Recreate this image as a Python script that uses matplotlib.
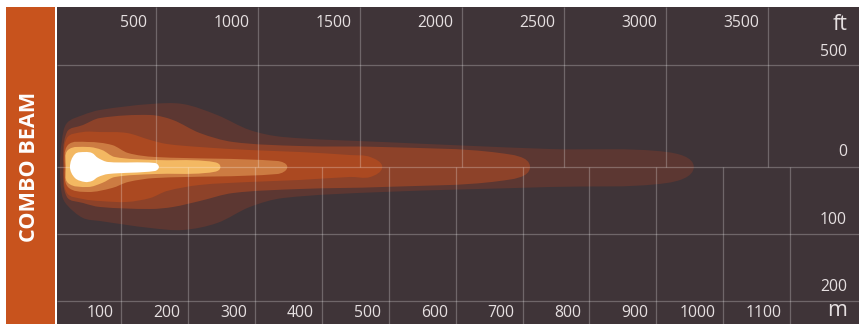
import matplotlib
matplotlib.use("Agg")
import matplotlib.pyplot as plt
from matplotlib.path import Path
from matplotlib.patches import PathPatch, Rectangle
import numpy as np

# ---------------- data (metres) ----------------
ft_ticks = [500, 1000, 1500, 2000, 2500, 3000, 3500]
m_ticks = [100, 200, 300, 400, 500, 600, 700, 800, 900, 1000, 1100]
lateral_lines_m = [152.4, 0, -100, -200]
right_labels = ["ft", "500", "0", "100", "200", "m"]
title = "COMBO BEAM"

# each layer: x positions, upper edge, lower edge, start (left tip) and end (right tip)
l1_x = [11, 18.5, 42.5, 68, 143, 192, 243, 292, 342, 491, 741, 916]
l1_top = [40.4, 65.8, 77.8, 85.3, 94.2, 94.2, 77.8, 55.3, 44.9, 37.4, 26.9, 22.4]
l1_bot = [-41.9, -56.8, -76.3, -80.8, -91.2, -94.2, -83.8, -59.8, -46.4, -37.4, -29.9, -23.9]
l1_ends = (8, 956)

l2_x = [18.5, 42.5, 68, 143, 177, 217, 267, 367, 491, 666]
l2_top = [52.3, 62.8, 73.3, 77.8, 70.3, 50.9, 37.4, 31.4, 29.9, 20.9]
l2_bot = [-44.9, -53.8, -59.8, -62.8, -59.8, -50.9, -38.9, -32.9, -29.9, -20.9]
l2_ends = (13, 711)

l3_x = [18.5, 42.5, 68, 108, 143, 168, 217, 292, 367, 442, 472]
l3_top = [43.4, 52.3, 52.3, 50.9, 40.4, 34.4, 29.9, 25.4, 22.4, 17.9, 15.0]
l3_bot = [-38.9, -47.9, -50.9, -52.3, -46.4, -35.9, -26.9, -22.4, -19.4, -14.9, -15.0]
l3_ends = (14, 490)

l4_x = [20, 50, 86, 110, 150, 333]
l4_top = [32.9, 37.4, 32.9, 20.9, 15.0, 9.0]
l4_bot = [-29.9, -37.4, -31.4, -22.4, -16.5, -10.5]
l4_ends = (15.5, 348)

l5_x = [20, 50, 71, 90, 150, 225]
l5_top = [25.4, 29.9, 25.4, 15.0, 10.5, 9.0]
l5_bot = [-23.9, -29.9, -23.9, -15.0, -10.5, -9.0]
l5_ends = (17, 248)

l6_x = [30.5, 45.5, 56, 65, 80, 150]
l6_top = [19.4, 22.4, 20.9, 13.5, 7.5, 6.0]
l6_bot = [-16.5, -22.4, -20.9, -15.0, -10.5, -6.0]
l6_ends = (23, 156)

layers = [
    (l1_x, l1_top, l1_bot, l1_ends, "#5c3732"),
    (l2_x, l2_top, l2_bot, l2_ends, "#8d4229"),
    (l3_x, l3_top, l3_bot, l3_ends, "#ab4921"),
    (l4_x, l4_top, l4_bot, l4_ends, "#cc7b42"),
    (l5_x, l5_top, l5_bot, l5_ends, "#f3b862"),
    (l6_x, l6_top, l6_bot, l6_ends, "#ffffff"),
]

# ---------------- styling ----------------
BG = "#3f3438"
BAR = "#c8531d"
TXT = "#e6e0e1"
FONT = "Open Sans"
W, H = 859, 324
ORIGIN_PX = 54.6      # pixel x of 0 m
ORIGIN_PY = 167.0     # pixel y of 0 m lateral
PX_PER_M = 0.6686

fig = plt.figure(figsize=(W / 100, H / 100), dpi=100, facecolor="white")

# orange side bar
fig.patches.append(Rectangle((6 / W, 0), (55 - 6) / W, (H - 7) / H,
                             transform=fig.transFigure, facecolor=BAR,
                             edgecolor="none", zorder=0))
fig.text(30 / W, 1 - 167 / H, title, rotation=90, ha="center", va="center",
         color="white", fontsize=15.6, fontweight="bold", family=FONT)

ax = fig.add_axes([57 / W, 0, (W - 57) / W, (H - 7) / H])
ax.set_facecolor(BG)
xmin = (57 - ORIGIN_PX) / PX_PER_M
xmax = (W - ORIGIN_PX) / PX_PER_M
ymin = (ORIGIN_PY - H) / PX_PER_M
ymax = (ORIGIN_PY - 7) / PX_PER_M
ax.set_xlim(xmin, xmax)
ax.set_ylim(ymin, ymax)
ax.set_axis_off()
ax.add_patch(Rectangle((xmin, ymin), xmax - xmin, ymax - ymin,
                       facecolor=BG, edgecolor="none", zorder=0))


def smooth_path(pts):
    """Closed smooth Bezier path through the given points (no overshoot)."""
    pts = np.asarray(pts, dtype=float)
    n = len(pts)
    tang = []
    for i in range(n):
        d = pts[(i + 1) % n] - pts[(i - 1) % n]
        tang.append(d / (np.hypot(*d) + 1e-12))
    verts = [pts[0]]
    codes = [Path.MOVETO]
    for i in range(n):
        p1 = pts[i]
        p2 = pts[(i + 1) % n]
        L = np.hypot(*(p2 - p1)) / 3.0
        verts += [p1 + tang[i] * L, p2 - tang[(i + 1) % n] * L, p2]
        codes += [Path.CURVE4] * 3
    return Path(verts, codes)


for k, (xs, top, bot, ends, col) in enumerate(layers):
    pts = [(ends[0], 0.0)]
    pts += list(zip(xs, top))
    pts += [(ends[1], 0.0)]
    pts += list(zip(xs[::-1], bot[::-1]))
    ax.add_patch(PathPatch(smooth_path(pts), facecolor=col, edgecolor="none",
                           zorder=2 + k))

# grid
gkw = dict(color="white", alpha=0.25, linewidth=0.9, zorder=10)
ax.vlines([f * 0.3048 for f in ft_ticks], 0, ymax, **gkw)
ax.vlines(m_ticks, ymin, 0, **gkw)
ax.hlines(lateral_lines_m, xmin, xmax, **gkw)

# labels
tkw = dict(color=TXT, fontsize=11.3, family=FONT, zorder=11)
y_ft = (ORIGIN_PY - 22.7) / PX_PER_M
for f in ft_ticks:
    ax.annotate(str(f), xy=(f * 0.3048, y_ft), xytext=(-6.5, 0),
                textcoords="offset points", ha="right", va="center", **tkw)
y_m = (ORIGIN_PY - 313) / PX_PER_M
for m in m_ticks:
    ax.annotate(str(m), xy=(m, y_m), xytext=(-5.8, 0),
                textcoords="offset points", ha="right", va="center", **tkw)

x_right = (847 - ORIGIN_PX) / PX_PER_M
right_py = [25, 51.7, 152, 220, 287, 311]
for lab, py in zip(right_labels, right_py):
    kw = dict(tkw)
    if lab in ("ft", "m"):
        kw["fontsize"] = 15.5
    ax.text(x_right, (ORIGIN_PY - py) / PX_PER_M, lab, ha="right", va="center", **kw)

fig.savefig("out.png", dpi=100, facecolor="white")
